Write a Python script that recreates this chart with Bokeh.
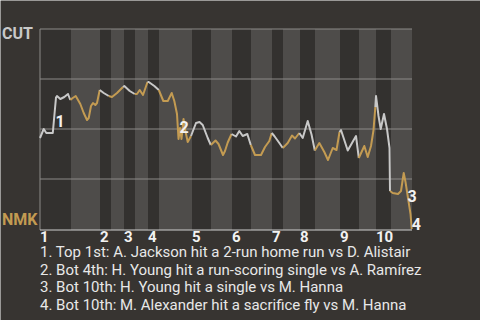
import numpy as np
from bokeh.plotting import figure
from bokeh.models import Range1d
from bokeh.core.properties import value
from bokeh.embed import file_html
from bokeh.resources import INLINE

# ---------------- data ----------------
away_team = "CUT"
home_team = "NMK"

# start of every half-inning (in plays), last value = end of game
half_starts = [0, 7.75, 15, 17.75, 21, 23.75, 27, 29.75, 38, 42.75, 48,
               52.75, 58, 60.75, 65, 68.75, 75, 79.75, 84, 87.75, 93]
inning_labels = ["1", "2", "3", "4", "5", "6", "7", "8", "9", "10"]

# win probability of CUT after each play
play_x = [0, 0.93, 1.58, 3.2, 3.58, 4.0, 4.25, 5.08, 6.08, 7.0, 7.58, 8.18, 8.93,
          10.08, 10.93, 11.75, 12.18, 12.75, 13.25, 13.83, 14.25, 14.93, 15.93,
          17.18, 18.0, 19.25, 20.75, 21.08, 22.43, 23.68, 24.25, 24.93, 25.75,
          26.88, 27.18, 28.58, 29.7, 30.83, 31.93, 32.93, 33.58, 34.25, 34.63,
          35.0, 35.38, 35.88, 36.25, 36.93, 37.75, 39.0, 39.88, 40.68, 41.93,
          42.7, 43.88, 44.63, 45.75, 46.25, 46.93, 47.88, 49.0, 49.83, 50.68,
          51.83, 52.7, 53.75, 55.25, 56.25, 57.33, 57.93, 58.58, 59.83, 60.7,
          61.93, 63.0, 63.75, 64.83, 65.68, 66.93, 67.88, 68.7, 69.83, 71.08,
          72.0, 73.18, 74.13, 74.88, 75.25, 76.93, 79.0, 79.7, 81.08, 81.93,
          82.75, 83.38, 83.83, 84.0, 84.63, 85.18, 86.0, 86.75, 87.38, 87.5,
          88.18, 89.5, 90.25, 90.93, 91.38, 92.0, 92.63, 92.93]
play_wp = [0.455, 0.50, 0.48, 0.48, 0.565, 0.657, 0.665, 0.65, 0.66, 0.675, 0.645,
           0.655, 0.665, 0.625, 0.58, 0.545, 0.555, 0.615, 0.63, 0.62, 0.63, 0.695,
           0.68, 0.665, 0.66, 0.68, 0.71, 0.715, 0.69, 0.675, 0.675, 0.695, 0.67,
           0.735, 0.735, 0.715, 0.695, 0.64, 0.64, 0.68, 0.64, 0.575, 0.45, 0.505,
           0.45, 0.55, 0.50, 0.435, 0.465, 0.53, 0.535, 0.52, 0.455, 0.42, 0.4425,
           0.425, 0.37, 0.39, 0.4325, 0.475, 0.4625, 0.49, 0.465, 0.475, 0.42,
           0.37, 0.37, 0.41, 0.44, 0.48, 0.465, 0.43, 0.405, 0.43, 0.4675, 0.4525,
           0.48, 0.455, 0.54, 0.4725, 0.3925, 0.43, 0.385, 0.345, 0.405, 0.395,
           0.485, 0.495, 0.3925, 0.465, 0.355, 0.415, 0.36, 0.415, 0.495, 0.61,
           0.665, 0.565, 0.50, 0.575, 0.50, 0.405, 0.19, 0.18, 0.175, 0.19, 0.28,
           0.235, 0.155, 0.075, 0.0]

# key plays
event_x = [4.0, 34.63, 87.5, 92.93]
event_text = [
    "1. Top 1st: A. Jackson hit a 2-run home run vs D. Alistair",
    "2. Bot 4th: H. Young hit a run-scoring single vs A. Ramírez",
    "3. Bot 10th: H. Young hit a single vs M. Hanna",
    "4. Bot 10th: M. Alexander hit a sacrifice fly vs M. Hanna",
]

# ---------------- style ----------------
BG = "#373431"
DARK = "#33312f"
LIGHT = "#4e4c4a"
GRID = "#8c8a88"
AWAY_C = "#c8c8c8"
HOME_C = "#c39b52"
FONT = value("Roboto")
PX_X = 4.0      # pixels per play
PX_Y = 200.0    # pixels per unit of probability

p = figure(width=480, height=320,
           x_range=Range1d(-9.875, 110.125), y_range=Range1d(-0.4575, 1.1425),
           output_backend="svg", toolbar_location=None, min_border=0,
           x_axis_location=None, y_axis_location=None,
           background_fill_color=BG, border_fill_color=BG, outline_line_color=None)
p.grid.visible = False

# half-inning bands
n_half = len(half_starts) - 1
band_cols = [DARK if i % 2 == 0 else LIGHT for i in range(n_half)]
p.quad(left=half_starts[:-1], right=half_starts[1:], bottom=-0.005, top=1,
       fill_color=band_cols, line_color=None)

# horizontal grid lines
gy = [0.25, 0.5, 0.75, 1.0]
p.segment(x0=[half_starts[0]] * 4, x1=[half_starts[-1]] * 4, y0=gy, y1=gy,
          line_color=GRID, line_width=1)
# left and bottom axis lines
p.segment(x0=[half_starts[0]], x1=[half_starts[0]], y0=[-0.005], y1=[1],
          line_color=GRID, line_width=1)
p.segment(x0=[half_starts[0]], x1=[half_starts[-1]], y0=[-0.005], y1=[-0.005],
          line_color="#cfcfcf", line_width=1)

# win-probability line, coloured by batting team
px = np.array(play_x)
py = np.array(play_wp)
xs, ys, cols = [], [], []
for h in range(n_half):
    lo, hi = half_starts[h], half_starts[h + 1]
    idx = np.where((px >= lo) & ((px < hi) if h < n_half - 1 else (px <= hi)))[0]
    if len(idx) == 0:
        continue
    if idx[0] > 0:
        idx = np.concatenate([[idx[0] - 1], idx])
    xs.append(list(px[idx]))
    ys.append(list(py[idx]))
    cols.append(AWAY_C if h % 2 == 0 else HOME_C)
p.multi_line(xs=xs, ys=ys, line_color=cols, line_width=2, line_join="round")

# event markers (label placed with a pixel offset from the event point)
ev_y = [float(np.interp(x, px, py)) for x in event_x]
off_x = [4, 5.5, 22, 4.5]
off_y = [23, -12.5, 4.5, -5]
lab_x = [x + dx / PX_X for x, dx in zip(event_x, off_x)]
lab_y = [y - dy / PX_Y for y, dy in zip(ev_y, off_y)]
p.text(x=lab_x, y=lab_y, text=[str(i + 1) for i in range(len(event_x))],
       text_align="center", text_baseline="alphabetic",
       text_font=FONT, text_font_size="16px", text_font_style="bold",
       text_color="#f2f2f2")

# team labels
p.text(x=[-9.5], y=[0.98], text=[away_team], text_font=FONT,
       text_font_size="16px", text_font_style="bold", text_color=AWAY_C,
       text_align="left", text_baseline="alphabetic")
p.text(x=[-9.5], y=[0.0465], text=[home_team], text_font=FONT,
       text_font_size="16px", text_font_style="bold", text_color=HOME_C,
       text_align="left", text_baseline="alphabetic")

# inning numbers
p.text(x=half_starts[0:-1:2], y=[-0.035] * len(inning_labels), text=inning_labels,
       text_font=FONT, text_font_size="15px", text_font_style="bold",
       text_color="#f2f2f2", text_align="left", text_baseline="alphabetic")

# event descriptions
p.text(x=[half_starts[0]] * len(event_text),
       y=[-0.1125, -0.2025, -0.2915, -0.38], text=event_text,
       text_font=FONT, text_font_size="15px", text_color="#e8e8e8",
       text_align="left", text_baseline="alphabetic")

open("out.html", "w").write(file_html(p, INLINE))
